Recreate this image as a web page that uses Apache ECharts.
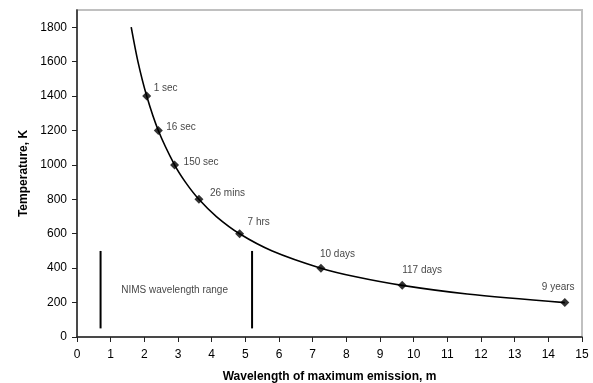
<!DOCTYPE html>
<html>
<head>
<meta charset="utf-8">
<script src="https://cdn.jsdelivr.net/npm/echarts@6/dist/echarts.min.js"></script>
<style>
html,body{margin:0;padding:0;background:#fff;}
#chart{width:593px;height:383px;}
</style>
</head>
<body>
<div id="chart"></div>
<script>
// Curve (wavelength µm, temperature K)
var curveWavelength = [1.61, 1.81, 2.07, 2.415, 2.898, 3.22, 3.62, 4.14, 4.83, 5.80, 7.245, 8.28, 9.66, 11.59, 14.49];
var curveTemperature = [1800, 1600, 1400, 1200, 1000, 900, 800, 700, 600, 500, 400, 350, 300, 250, 200];
// Marked points
var markWavelength = [2.07, 2.415, 2.898, 3.6225, 4.83, 7.245, 9.66, 14.49];
var markTemperature = [1400, 1200, 1000, 800, 600, 400, 300, 200];
var markLabels = ['1 sec', '16 sec', '150 sec', '26 mins', '7 hrs', '10 days', '117 days', '9 years'];
// NIMS wavelength range
var nimsWavelength = [0.7, 5.2];
var nimsTemperature = [50, 500];
var nimsText = 'NIMS wavelength range';
var nimsTextPos = [2.9, 270];
// Ticks
var xTicks = [0,1,2,3,4,5,6,7,8,9,10,11,12,13,14,15];
var yTicks = [0,200,400,600,800,1000,1200,1400,1600,1800];

// label placement (style only)
var labelOffsets = [[7,-8],[8,-3],[9,-3],[11,-6],[8,-11],[-1,-14],[0,-15],[-23,-15]];

var font = 'Liberation Sans, Arial, sans-serif';
var chart = echarts.init(document.getElementById('chart'), null, {renderer:'canvas'});

var curveData = curveWavelength.map(function(x,i){return [x, curveTemperature[i]];});
var markData = markWavelength.map(function(x,i){
  return {value:[x, markTemperature[i]], label:{offset: labelOffsets[i]}};
});
var series = [
  {type:'line', data: curveData, smooth: 0.3, symbol:'none',
   lineStyle:{color:'#000', width:1.6}, silent:true, z:3},
  {type:'scatter', data: markData, symbol:'diamond', symbolSize:9,
   itemStyle:{color:'#000'}, z:4,
   label:{show:true, position:'inside', align:'left', verticalAlign:'middle',
     color:'#111', fontFamily:font, fontSize:10,
     formatter:function(p){return markLabels[p.dataIndex];}}},
  {type:'scatter', data:[nimsTextPos], symbolSize:0, z:4,
   label:{show:true, position:'inside', align:'center', verticalAlign:'middle',
     color:'#111', fontFamily:font, fontSize:10, formatter:function(){return nimsText;}}}
];
nimsWavelength.forEach(function(x){
  series.push({type:'line', data:[[x, nimsTemperature[0]],[x, nimsTemperature[1]]],
    symbol:'none', lineStyle:{color:'#000', width:2}, silent:true, z:3});
});

chart.setOption({
  animation:false,
  backgroundColor:'#fff',
  grid:{left:77, right:11, top:10, bottom:46, containLabel:false, outerBoundsMode:'none',
    show:true, borderColor:'#c0c0c0', borderWidth:2, backgroundColor:'transparent'},
  xAxis:{type:'value', min:0, max:15, interval:1,
    name:'Wavelength of maximum emission, m', nameLocation:'middle', nameGap:34,
    nameTextStyle:{fontFamily:font, fontSize:12, fontWeight:'bold', color:'#000'},
    axisLine:{lineStyle:{color:'#222', width:1.5}},
    axisTick:{show:true, length:5, lineStyle:{color:'#222'}, customValues: xTicks},
    axisLabel:{fontFamily:font, fontSize:12, color:'#000', margin:12, customValues: xTicks,
      formatter:function(v){return String(v);}},
    splitLine:{show:false}},
  yAxis:{type:'value', min:0, max:1900, interval:200,
    name:'Temperature, K', nameLocation:'middle', nameGap:46,
    nameTextStyle:{fontFamily:font, fontSize:12, fontWeight:'bold', color:'#000'},
    axisLine:{show:true, lineStyle:{color:'#222', width:1.5}},
    axisTick:{show:true, length:5, lineStyle:{color:'#222'}, customValues: yTicks},
    axisLabel:{fontFamily:font, fontSize:12, color:'#000', margin:10, customValues: yTicks,
      formatter:function(v){return String(v);}},
    splitLine:{show:false}},
  series: series
});
</script>
</body>
</html>
